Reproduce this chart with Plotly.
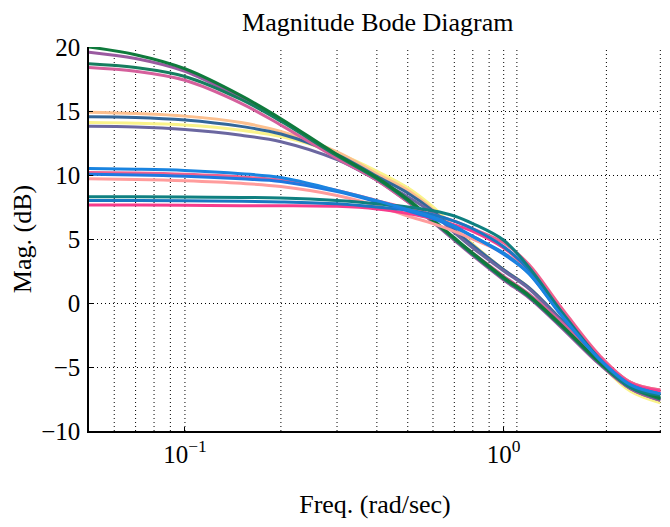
import plotly.graph_objects as go

# Frequencies (rad/sec) at which magnitudes were read
freq = [0.05, 0.07, 0.1, 0.15, 0.2, 0.3, 0.4, 0.5, 0.6, 0.7, 0.8, 1.0, 1.2, 1.5, 2.0, 2.5, 3.1]

# Magnitudes (dB)
a1 = [20.0, 19.4, 18.3, 16.2, 14.4, 11.6, 9.8, 8.1, 6.5, 5.1, 3.9, 2.0, 0.6, -1.6, -4.6, -6.5, -7.4]
a2 = [19.6, 19.1, 18.1, 16.0, 14.3, 11.4, 9.6, 7.9, 6.3, 4.9, 3.7, 1.8, 0.4, -1.8, -4.8, -6.7, -7.6]
a3 = [18.7, 18.4, 17.7, 15.9, 14.2, 11.5, 9.7, 8.0, 6.4, 5.0, 3.8, 1.9, 0.5, -1.7, -4.7, -6.6, -7.5]
a4 = [18.4, 18.1, 17.4, 15.6, 13.9, 11.3, 9.6, 7.9, 6.4, 5.0, 3.9, 2.1, 0.7, -1.4, -4.4, -6.2, -7.0]
b1 = [14.9, 14.8, 14.6, 14.1, 13.4, 11.8, 10.1, 8.8, 7.3, 5.8, 4.5, 2.6, 1.2, -1.2, -4.5, -6.6, -7.5]
b2 = [14.55, 14.5, 14.3, 13.8, 13.2, 11.6, 9.9, 8.6, 7.2, 5.7, 4.5, 2.6, 1.2, -1.2, -4.5, -6.6, -7.5]
b3 = [14.1, 14.05, 13.9, 13.5, 13.0, 11.7, 10.3, 9.0, 7.5, 5.9, 4.6, 2.6, 1.2, -1.3, -4.7, -6.9, -7.8]
b4 = [13.8, 13.75, 13.55, 13.1, 12.6, 11.2, 9.6, 8.3, 7.0, 5.5, 4.3, 2.5, 1.1, -1.3, -4.6, -6.7, -7.6]
c1 = [10.5, 10.45, 10.35, 10.1, 9.8, 8.8, 8.0, 7.3, 6.7, 6.0, 5.2, 3.9, 2.3, -0.8, -4.4, -6.4, -7.1]
c2 = [10.2, 10.15, 10.05, 9.85, 9.6, 8.8, 8.0, 7.4, 6.9, 6.4, 5.8, 4.7, 3.0, -0.2, -4.1, -6.2, -6.8]
c3 = [10.05, 10.0, 9.9, 9.7, 9.5, 8.7, 7.9, 7.2, 6.6, 5.9, 5.2, 3.8, 2.3, -0.8, -4.4, -6.4, -7.1]
c4 = [9.7, 9.65, 9.55, 9.35, 9.1, 8.4, 7.6, 6.8, 6.2, 5.6, 5.0, 3.9, 2.5, -0.5, -4.2, -6.2, -6.8]
d1 = [8.3, 8.3, 8.28, 8.25, 8.2, 8.0, 7.75, 7.5, 7.2, 6.8, 6.2, 4.9, 2.8, -0.5, -4.4, -6.6, -7.2]
d2 = [8.0, 8.0, 7.98, 7.95, 7.9, 7.75, 7.5, 7.25, 6.9, 6.4, 5.8, 4.4, 2.6, -0.6, -4.4, -6.5, -7.1]
d3 = [7.65, 7.65, 7.63, 7.6, 7.6, 7.55, 7.35, 7.0, 6.6, 6.1, 5.6, 4.3, 2.6, -0.5, -4.3, -6.3, -6.9]

series = [
    (b3, "#faf38a"), (b1, "#fcc08f"), (b2, "#33679a"), (b4, "#6b67a0"),
    (a2, "#9a5aa0"), (a4, "#d5609c"), (a3, "#167e5f"), (a1, "#0f7a3c"),
    (c4, "#ff9c9c"), (c2, "#f0608e"), (d3, "#f73c8c"),
    (d2, "#1a78c2"), (c3, "#1f78e0"), (d1, "#0f8080"), (c1, "#1a84e0"),
]

# Grid positions and tick labels
y_ticks = [20, 15, 10, 5, 0, -5, -10]
y_labels = ["20", "15", "10", "5", "0", "\u22125", "\u221210"]
x_ticks = [0.1, 1.0]
x_labels = ["10<sup>\u22121</sup>", "10<sup>0</sup>"]
x_grid = [0.06, 0.07, 0.08, 0.09, 0.1, 0.2, 0.3, 0.4, 0.5, 0.6, 0.7, 0.8, 0.9, 1.0, 1.1, 2.1, 3.1]

fig = go.Figure()
for vals, col in series:
    fig.add_trace(go.Scatter(x=freq, y=vals, mode="lines",
                             line=dict(color=col, width=3, shape="spline", smoothing=1.0),
                             showlegend=False, hoverinfo="skip"))

dotted = "1px,3px"
shapes = []
for xv in x_grid:
    shapes.append(dict(type="line", xref="x", yref="paper", x0=xv, x1=xv, y0=0, y1=1,
                       line=dict(color="black", width=1, dash=dotted), layer="below"))

font = "Liberation Serif"
fig.update_layout(
    width=654, height=511,
    margin=dict(l=81, r=1, t=39, b=88, autoexpand=False),
    plot_bgcolor="white", paper_bgcolor="white",
    title=dict(text="Magnitude Bode Diagram", x=0.5654, xanchor="center", y=0.9726, yanchor="middle",
               font=dict(family=font, size=26, color="black")),
    shapes=shapes,
    xaxis=dict(type="log", range=[-1.30103, 0.4935], tickvals=x_ticks, ticktext=x_labels,
               automargin=False,
               showgrid=False, zeroline=False, showline=True, linecolor="black", linewidth=1.5,
               ticks="inside", ticklen=4, tickcolor="black", ticklabelstandoff=0,
               tickfont=dict(family=font, size=25, color="black"),
               title=dict(text="Freq. (rad/sec)", font=dict(family=font, size=26, color="black"), standoff=30)),
    yaxis=dict(range=[-10, 20], tickvals=y_ticks, ticktext=y_labels,
               automargin=False,
               showgrid=True, gridcolor="black", gridwidth=1, griddash=dotted,
               zeroline=False, showline=True, linecolor="black", linewidth=1.5,
               ticks="inside", ticklen=4, tickcolor="black", ticklabelstandoff=2,
               tickfont=dict(family=font, size=25, color="black"),
               title=dict(text="Mag. (dB)", font=dict(family=font, size=26, color="black"), standoff=2)),
)

fig.write_html("out.html")
